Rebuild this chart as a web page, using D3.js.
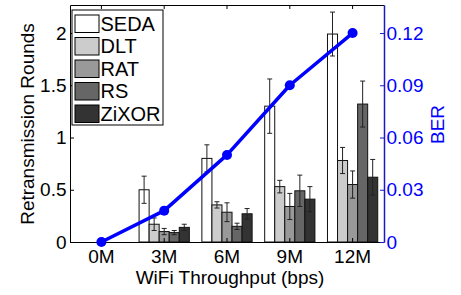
<!DOCTYPE html>
<html lang="en">
<head>
<meta charset="utf-8">
<style>
body { margin: 0; background: #fff; }
svg text { font-family: "Liberation Sans", Arial, sans-serif; }
</style>
</head>
<body>
<script src="https://d3js.org/d3.v7.min.js"></script>
<svg id="chart" width="461" height="295"></svg>
<script>
// data
var categories = ["0M", "3M", "6M", "9M", "12M"];
var series = ["SEDA", "DLT", "RAT", "RS", "ZiXOR"];
var grays = ["#ffffff", "#cccccc", "#999999", "#666666", "#333333"];

var seda  = [0, 0.50, 0.80, 1.30, 1.99];
var dlt   = [0, 0.17, 0.355, 0.53, 0.78];
var rat   = [0, 0.10, 0.285, 0.34, 0.55];
var rs    = [0, 0.09, 0.15, 0.49, 1.32];
var zixor = [0, 0.14, 0.27, 0.41, 0.62];

var sedaErr  = [0, 0.13, 0.13, 0.26, 0.21];
var dltErr   = [0, 0.06, 0.03, 0.06, 0.125];
var ratErr   = [0, 0.03, 0.09, 0.125, 0.13];
var rsErr    = [0, 0.02, 0.03, 0.15, 0.22];
var zixorErr = [0, 0.03, 0.05, 0.12, 0.17];

var ber = [0, 0.018, 0.05, 0.09, 0.12];

var leftTicks = [0, 0.5, 1, 1.5, 2];
var rightTicks = [0, 0.03, 0.06, 0.09, 0.12];

var values = [seda, dlt, rat, rs, zixor];
var errs = [sedaErr, dltErr, ratErr, rsErr, zixorErr];

var svg = d3.select("#chart"),
    plotL = 70, plotR = 384, plotT = 5, plotB = 242,
    fontSize = 19;

var x = d3.scaleBand().domain(categories).range([plotL, plotR])
    .paddingInner(0.2).paddingOuter(0.1);
var xs = d3.scaleBand().domain(series).range([0, x.bandwidth()]);
var y = d3.scaleLinear().domain([0, 2.268]).range([plotB, plotT]);
var y2 = d3.scaleLinear().domain([0, 0.1361]).range([plotB, plotT]);

var rows = [];
series.forEach(function(s, j) {
  categories.forEach(function(c, i) {
    rows.push({s: s, j: j, c: c, v: values[j][i], e: errs[j][i]});
  });
});

// bars
svg.append("g").selectAll("rect")
  .data(rows.filter(function(d) { return d.v > 0; }))
  .enter().append("rect")
    .attr("x", function(d) { return x(d.c) + xs(d.s); })
    .attr("y", function(d) { return y(d.v); })
    .attr("width", xs.bandwidth())
    .attr("height", function(d) { return y(0) - y(d.v); })
    .attr("fill", function(d) { return grays[d.j]; })
    .attr("stroke", "#111")
    .attr("stroke-width", 1);

// error bars
var eb = svg.append("g").attr("stroke", "#222").attr("stroke-width", 1)
  .selectAll("g")
  .data(rows.filter(function(d) { return d.e > 0; }))
  .enter().append("g")
    .attr("transform", function(d) {
      return "translate(" + (x(d.c) + xs(d.s) + xs.bandwidth() / 2) + ",0)";
    });
eb.append("line")
  .attr("y1", function(d) { return y(d.v + d.e); })
  .attr("y2", function(d) { return y(d.v - d.e); });
eb.append("line").attr("x1", -2.5).attr("x2", 2.5)
  .attr("y1", function(d) { return y(d.v + d.e); })
  .attr("y2", function(d) { return y(d.v + d.e); });
eb.append("line").attr("x1", -2.5).attr("x2", 2.5)
  .attr("y1", function(d) { return y(d.v - d.e); })
  .attr("y2", function(d) { return y(d.v - d.e); });

// axes
var xAxis = svg.append("g")
    .attr("transform", "translate(0," + plotB + ")")
    .call(d3.axisBottom(x).tickSizeInner(-4).tickSizeOuter(0).tickPadding(7.5));
var xTop = svg.append("g")
    .attr("transform", "translate(0," + plotT + ")")
    .call(d3.axisTop(x).tickSizeInner(-4).tickSizeOuter(0).tickFormat(""));
var yAxis = svg.append("g")
    .attr("transform", "translate(" + plotL + ",0)")
    .call(d3.axisLeft(y).tickValues(leftTicks).tickSizeInner(-4).tickSizeOuter(0)
      .tickPadding(3.5).tickFormat(d3.format("")));
var yRight = svg.append("g")
    .attr("transform", "translate(" + plotR + ",0)")
    .call(d3.axisRight(y2).tickValues(rightTicks).tickSizeInner(-4).tickSizeOuter(0)
      .tickPadding(2.5).tickFormat(function(d) { return d === 0 ? "0" : d3.format(".2f")(d); }));

[xAxis, xTop, yAxis].forEach(function(g) {
  g.select(".domain").attr("stroke", "#000").attr("stroke-width", 1);
  g.selectAll(".tick line").attr("stroke", "#000");
  g.selectAll("text").attr("font-size", fontSize).attr("fill", "#000")
    .attr("font-family", "Liberation Sans, Arial, sans-serif");
});
yRight.select(".domain").attr("stroke", "#1a1ac0").attr("stroke-width", 1.5);
yRight.selectAll(".tick line").attr("stroke", "#1a1ac0");
yRight.selectAll("text").attr("font-size", fontSize).attr("fill", "#0000ff")
  .attr("font-family", "Liberation Sans, Arial, sans-serif");

// BER line
var line = d3.line()
  .x(function(d, i) { return x(categories[i]) + x.bandwidth() / 2; })
  .y(function(d) { return y2(d); });
svg.append("path").datum(ber)
  .attr("d", line)
  .attr("fill", "none")
  .attr("stroke", "#0000ff")
  .attr("stroke-width", 3.5)
  .attr("stroke-linejoin", "round");
svg.append("g").selectAll("circle")
  .data(ber).enter().append("circle")
    .attr("cx", function(d, i) { return x(categories[i]) + x.bandwidth() / 2; })
    .attr("cy", function(d) { return y2(d); })
    .attr("r", 5)
    .attr("fill", "#0000ff");

// axis titles
svg.append("text")
  .attr("transform", "translate(33.5,124) rotate(-90)")
  .attr("text-anchor", "middle")
  .attr("font-size", fontSize)
  .text("Retransmission Rounds");
svg.append("text")
  .attr("x", 230).attr("y", 284)
  .attr("text-anchor", "middle")
  .attr("font-size", fontSize)
  .text("WiFi Throughput (bps)");
svg.append("text")
  .attr("transform", "translate(444,124.5) rotate(-90)")
  .attr("text-anchor", "middle")
  .attr("font-size", fontSize)
  .attr("fill", "#0000ff")
  .text("BER");

// legend
var legend = svg.append("g");
legend.append("rect")
  .attr("x", 72).attr("y", 10).attr("width", 91).attr("height", 115)
  .attr("fill", "#fff").attr("stroke", "#000").attr("stroke-width", 1);
var item = legend.selectAll("g.item").data(series).enter().append("g")
  .attr("class", "item")
  .attr("transform", function(d, i) { return "translate(75," + (15 + i * 22.5) + ")"; });
item.append("rect")
  .attr("width", 24).attr("height", 17.5)
  .attr("fill", function(d, i) { return grays[i]; })
  .attr("stroke", "#000").attr("stroke-width", 1);
item.append("text")
  .attr("x", 25.5).attr("y", 15.8)
  .attr("font-size", 20)
  .text(function(d) { return d; });
</script>
</body>
</html>
